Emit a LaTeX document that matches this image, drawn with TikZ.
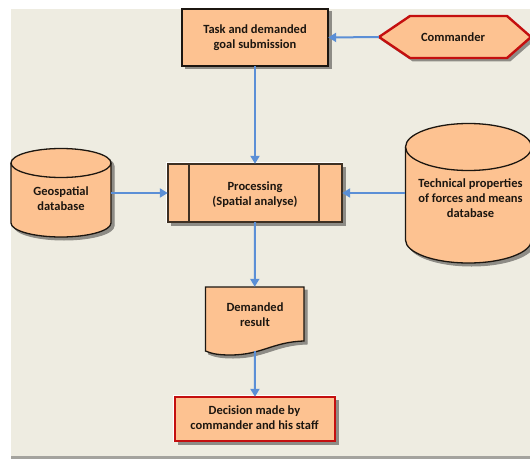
\documentclass[tikz,border=0pt]{standalone}
\usepackage{fontspec}
\setmainfont{Carlito}
\usetikzlibrary{arrows.meta}
\definecolor{bgc}{HTML}{EEECE1}
\definecolor{fillc}{HTML}{FDC291}
\definecolor{linkc}{HTML}{5B8FD6}
\definecolor{redc}{HTML}{C40F0F}
\definecolor{inkc}{HTML}{1C1610}
\definecolor{shadec}{HTML}{8E8C86}
\tikzset{
  x=1pt,y=-1pt,
  label text/.style={font=\bfseries\fontsize{12.5}{15}\selectfont,align=center,text=inkc,inner sep=0pt},
  black shape/.style={draw=inkc,fill=fillc,line width=1.3pt,line join=miter},
  red shape/.style={draw=redc,fill=fillc,line width=2.4pt,line join=miter},
  shade shape/.style={fill=shadec,draw=shadec,line width=1pt,xshift=3pt,yshift=-3pt},
  glow shape/.style={draw=white,line width=3pt,xshift=-0.6pt,yshift=0.6pt},
  frame/.style={minimum width=#1,inner sep=0pt},
  link/.style={draw=linkc,line width=2pt,-{Triangle[width=9pt,length=8pt]}},
}
\begin{document}
\begin{tikzpicture}
\useasboundingbox (0,0) rectangle (530,460);
\fill[white] (0,0) rectangle (530,460);
\fill[bgc] (11,9) rectangle (530,456);
\fill[shadec!80!white] (11,456) rectangle (530,459);

% Task box
\path[shade shape] (182,9) rectangle (328,66);
\path[black shape] (182,9) rectangle (328,66);

% Commander hexagon
\path[shade shape] (379,37) -- (410,16) -- (507,16) -- (531,37) -- (507,58) -- (410,58) -- cycle;
\path[red shape] (379,37) -- (410,16) -- (507,16) -- (531,37) -- (507,58) -- (410,58) -- cycle;

% Geospatial cylinder
\path[shade shape] (11,163) .. controls (11,155) and (33.4,148.5) .. (61,148.5) .. controls (88.6,148.5) and (111,155) .. (111,163) -- (111,223) .. controls (111,230.7) and (88.6,237) .. (61,237) .. controls (33.4,237) and (11,230.7) .. (11,223) -- cycle;
\path[black shape] (11,163) .. controls (11,155) and (33.4,148.5) .. (61,148.5) .. controls (88.6,148.5) and (111,155) .. (111,163) -- (111,223) .. controls (111,230.7) and (88.6,237) .. (61,237) .. controls (33.4,237) and (11,230.7) .. (11,223) -- cycle;
\path[black shape,fill=none] (11,163) .. controls (11,171) and (33.4,177.5) .. (61,177.5) .. controls (88.6,177.5) and (111,171) .. (111,163);

% Technical cylinder
\path[shade shape] (405.5,147) .. controls (405.5,134) and (433.7,123.5) .. (468.5,123.5) .. controls (503.3,123.5) and (531.5,134) .. (531.5,147) -- (531.5,240) .. controls (531.5,252.7) and (503.3,263) .. (468.5,263) .. controls (433.7,263) and (405.5,252.7) .. (405.5,240) -- cycle;
\path[black shape] (405.5,147) .. controls (405.5,134) and (433.7,123.5) .. (468.5,123.5) .. controls (503.3,123.5) and (531.5,134) .. (531.5,147) -- (531.5,240) .. controls (531.5,252.7) and (503.3,263) .. (468.5,263) .. controls (433.7,263) and (405.5,252.7) .. (405.5,240) -- cycle;
\path[black shape,fill=none] (405.5,147) .. controls (405.5,160) and (433.7,170.5) .. (468.5,170.5) .. controls (503.3,170.5) and (531.5,160) .. (531.5,147);

% Processing
\path[glow shape] (168,164) rectangle (342,222);
\path[shade shape] (168,164) rectangle (342,222);
\path[black shape,draw=inkc!85!fillc] (168,164) rectangle (342,222);
\draw[inkc!85!fillc,line width=1.3pt] (189,164) -- (189,222) (319,164) -- (319,222);

% Document
\path[shade shape] (205.5,287) -- (304,287) -- (304,341) .. controls (272,342) and (262,355) .. (230,355) .. controls (220,355) and (212,354) .. (205.5,351) -- cycle;
\path[black shape] (205.5,287) -- (304,287) -- (304,341) .. controls (272,342) and (262,355) .. (230,355) .. controls (220,355) and (212,354) .. (205.5,351) -- cycle;

% Decision
\path[glow shape] (175,397) rectangle (335,441);
\path[shade shape] (175,397) rectangle (335,441);
\path[red shape] (175,397) rectangle (335,441);

% Labelled nodes
\node[label text,frame=146pt,minimum height=57pt] (task) at (255,37.5) {Task and demanded\\goal submission};
\node[label text,frame=152pt,minimum height=42pt] (commander) at (455,37) {};
\node[label text] (commanderlabel) at (453,37) {Commander};
\node[label text,frame=100pt,minimum height=88pt] (geo) at (61,193) {};
\node[label text] (geolabel) at (61,198.5) {Geospatial\\database};
\node[label text,frame=174pt,minimum height=58pt] (proc) at (255,193) {};
\node[label text] (proclabel) at (255,194.5) {Processing\\(Spatial analyse)};
\node[label text,frame=125pt,minimum height=140pt] (tech) at (468,193) {};
\node[label text] (techlabel) at (470.5,198) {Technical properties\\of forces and means\\database};
\node[label text,frame=98.5pt,minimum height=64pt] (result) at (254.75,319) {};
\node[label text] (resultlabel) at (255,314.5) {Demanded\\result};
\node[label text,frame=160pt,minimum height=44pt] (decision) at (255,419) {};
\node[label text] (decisionlabel) at (254.5,418) {Decision made by\\commander and his staff};

% Connectors
\path[link] (task.south) -- (proc.north);
\path[link] (commander.west) -- (task.east);
\path[link] (geo.east) -- (proc.west);
\path[link] (tech.west) -- (proc.east);
\path[link] (proc.south) -- (result.north);
\path[link] (result.south) -- (decision.north);
\end{tikzpicture}
\end{document}
